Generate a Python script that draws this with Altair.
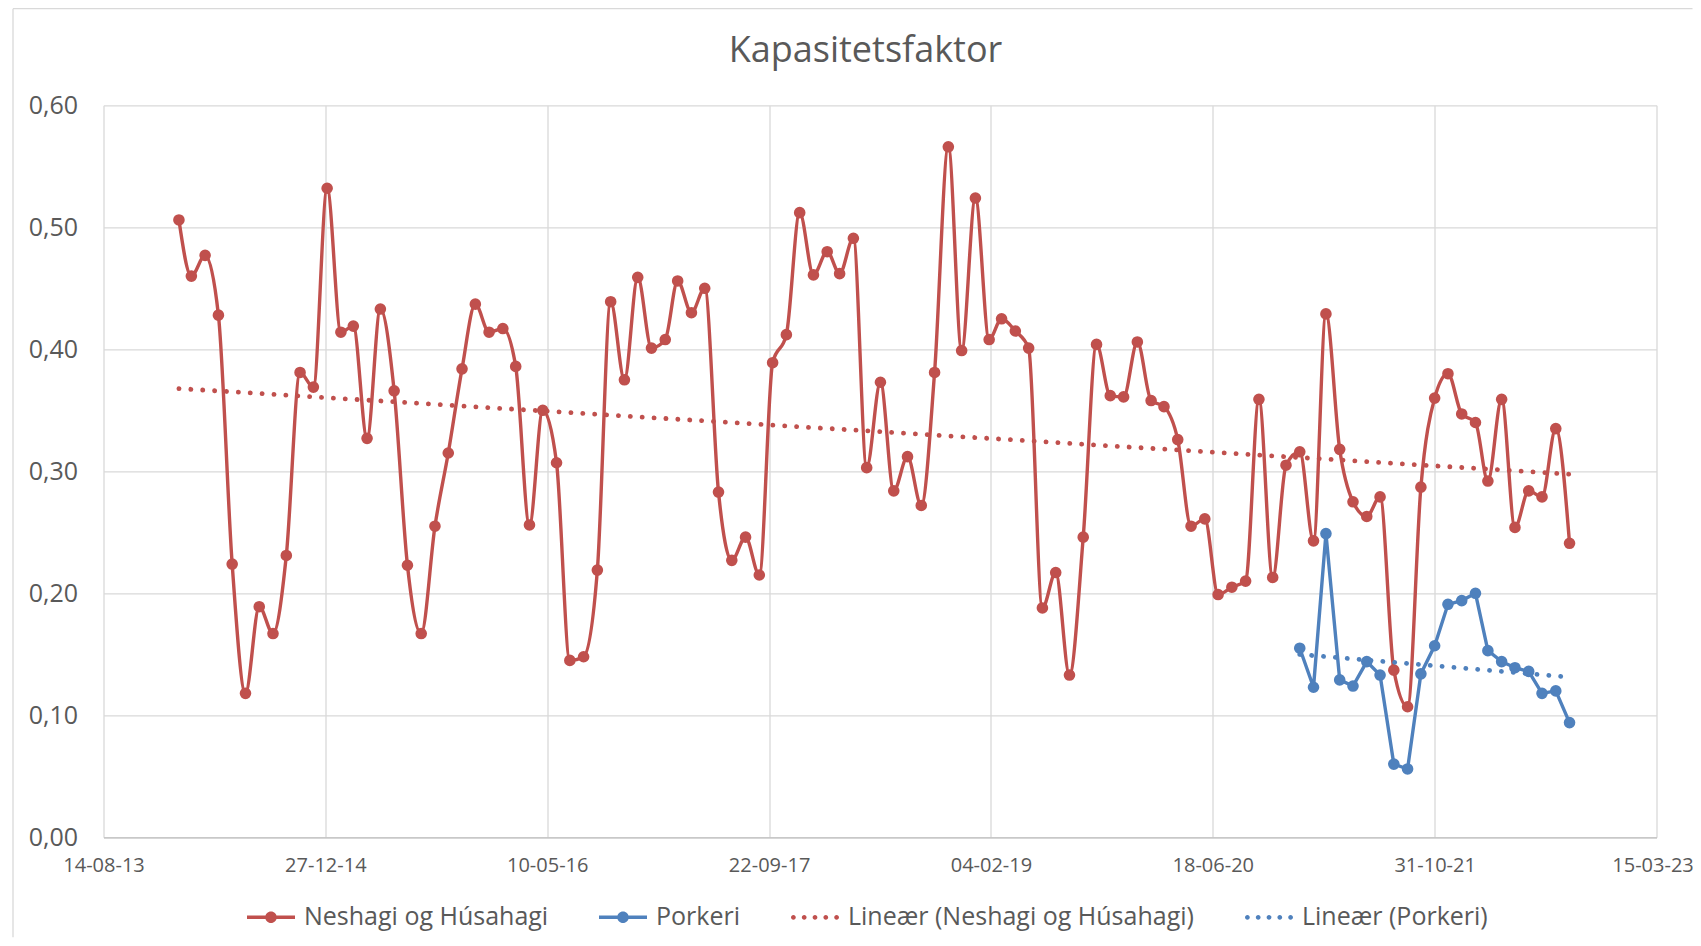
import altair as alt
import pandas as pd

RED = "#C0504D"
BLUE = "#4F81BD"
TEXT = "#595959"
GRID = "#D9D9D9"
FONT = "Open Sans"

# monthly dates (month end), Jan 2014 - Aug 2022
ym = [(y, m) for y in range(2014, 2023) for m in range(1, 13)][:104]
months = [(pd.Timestamp(year=y, month=m, day=1) + pd.offsets.MonthEnd(0)).strftime("%Y-%m-%d") for y, m in ym]

neshagi = [
    0.506, 0.460, 0.477, 0.428, 0.224, 0.118, 0.189, 0.167, 0.231, 0.381, 0.369, 0.532,
    0.414, 0.419, 0.327, 0.433, 0.366, 0.223, 0.167, 0.255, 0.315, 0.384, 0.437, 0.414,
    0.417, 0.386, 0.256, 0.350, 0.307, 0.145, 0.148, 0.219, 0.439, 0.375, 0.459, 0.401,
    0.408, 0.456, 0.430, 0.450, 0.283, 0.227, 0.246, 0.215, 0.389, 0.412, 0.512, 0.461,
    0.480, 0.462, 0.491, 0.303, 0.373, 0.284, 0.312, 0.272, 0.381, 0.566, 0.399, 0.524,
    0.408, 0.425, 0.415, 0.401, 0.188, 0.217, 0.133, 0.246, 0.404, 0.362, 0.361, 0.406,
    0.358, 0.353, 0.326, 0.255, 0.261, 0.199, 0.205, 0.210, 0.359, 0.213, 0.305, 0.316,
    0.243, 0.429, 0.318, 0.275, 0.263, 0.279, 0.137, 0.107, 0.287, 0.360, 0.380, 0.347,
    0.340, 0.292, 0.359, 0.254, 0.284, 0.279, 0.335, 0.241,
]
porkeri = [
    0.155, 0.123, 0.249, 0.129, 0.124, 0.144, 0.133, 0.060, 0.056, 0.134, 0.157, 0.191,
    0.194, 0.200, 0.153, 0.144, 0.139, 0.136, 0.118, 0.120, 0.094,
]
porkeri_months = months[-len(porkeri):]

tick_dates = ["2013-08-14", "2014-12-27", "2016-05-10", "2017-09-22",
              "2019-02-04", "2020-06-18", "2021-10-31", "2023-03-15"]
y_ticks = [0.0, 0.1, 0.2, 0.3, 0.4, 0.5, 0.6]

title_text = "Kapasitetsfaktor"
series_names = ["Neshagi og Húsahagi", "Porkeri",
                "Lineær (Neshagi og Húsahagi)", "Lineær (Porkeri)"]


def ms(d):
    return int(pd.Timestamp(d).value // 10**6)


df_red = pd.DataFrame({"t": [ms(d) for d in months], "value": neshagi})
df_blue = pd.DataFrame({"t": [ms(d) for d in porkeri_months], "value": porkeri})
tick_ms = [ms(d) for d in tick_dates]

x_scale = alt.Scale(type="utc", domain=[tick_ms[0], tick_ms[-1]], nice=False)
y_scale = alt.Scale(domain=[0, 0.6], nice=False)

x_axis = alt.Axis(values=tick_ms, labelExpr="utcFormat(datum.value, '%d-%m-%y')",
                  title=None, grid=True, gridColor=GRID, gridWidth=1.3,
                  domain=True, domainColor="#BFBFBF", domainWidth=1.3, ticks=False,
                  labelFont=FONT, labelFontSize=20, labelColor=TEXT, labelPadding=18,
                  labelOffset={"condition": {"test": f"datum.value >= {tick_ms[-1]}", "value": -4},
                               "value": 0},
                  labelFlush=False, labelOverlap=False)
y_axis = alt.Axis(values=y_ticks, labelExpr="replace(format(datum.value, '.2f'), '.', ',')",
                  title=None, grid=True, gridColor=GRID, gridWidth=1.3,
                  domain=False, ticks=False,
                  labelFont=FONT, labelFontSize=25, labelColor=TEXT, labelPadding=26,
                  labelFlush=False, labelOverlap=False)

X = alt.X("t:T", scale=x_scale, axis=x_axis)
Y = alt.Y("value:Q", scale=y_scale, axis=y_axis)

one = pd.DataFrame({"a": [0]})

# chart-area frame (decoration): only its left and top edges are inside the picture
frame_left = alt.Chart(one).mark_rule(color=GRID, strokeWidth=1.3, clip=False).encode(
    x=alt.value(-90.5), y=alt.value(-96.6), y2=alt.value(832))
frame_top = alt.Chart(one).mark_rule(color=GRID, strokeWidth=1.3, clip=False).encode(
    x=alt.value(-90.5), x2=alt.value(1589), y=alt.value(-96.6))

title = alt.Chart(one).mark_text(
    text=title_text, font=FONT, fontSize=36, color=TEXT, align="center", baseline="middle"
).encode(x=alt.value(762), y=alt.value(-54))

red_line = alt.Chart(df_red).mark_line(interpolate="monotone", color=RED, strokeWidth=3.4).encode(x=X, y=Y)
red_pts = alt.Chart(df_red).mark_circle(size=135, color=RED, opacity=1).encode(x=X, y=Y)
blue_line = alt.Chart(df_blue).mark_line(color=BLUE, strokeWidth=3.4).encode(x=X, y=Y)
blue_pts = alt.Chart(df_blue).mark_circle(size=135, color=BLUE, opacity=1).encode(x=X, y=Y)

dot_style = dict(strokeWidth=4.8, strokeCap="round", strokeDash=[0.1, 11.8])
red_trend = (alt.Chart(df_red).transform_regression("t", "value", method="linear")
             .mark_line(color=RED, **dot_style).encode(x=X, y=Y))
blue_trend = (alt.Chart(df_blue).transform_regression("t", "value", method="linear")
              .mark_line(color=BLUE, **dot_style).encode(x=X, y=Y))

# legend symbols (custom paths in -1..1 box)
P_LINE = ("M-1,-0.07 L1,-0.07 L1,0.07 L-1,0.07 Z "
          "M-0.24,0 A0.24,0.24 0 1,1 0.24,0 A0.24,0.24 0 1,1 -0.24,0 Z")
dots = []
for cx in [-0.9, -0.45, 0.0, 0.45, 0.9]:
    r = 0.1
    dots.append(f"M{cx - r},0 A{r},{r} 0 1,1 {cx + r},0 A{r},{r} 0 1,1 {cx - r},0 Z")
P_DOTS = " ".join(dots)

legend = alt.Legend(orient="none", legendX=143.5, legendY=788, direction="horizontal",
                    title=None, symbolSize=2304, symbolStrokeWidth=0,
                    labelFont=FONT, labelFontSize=25, labelColor=TEXT, labelLimit=0,
                    labelOffset=9, columnPadding=50, padding=0)
legend_df = pd.DataFrame({"series": series_names})
legend_layer = alt.Chart(legend_df).transform_filter("false").mark_point(filled=True, opacity=1).encode(
    shape=alt.Shape("series:N", scale=alt.Scale(domain=series_names, range=[P_LINE, P_LINE, P_DOTS, P_DOTS]),
                    legend=legend),
    color=alt.Color("series:N", scale=alt.Scale(domain=series_names, range=[RED, BLUE, RED, BLUE]),
                    legend=legend),
)

chart = alt.layer(frame_left, frame_top, title, red_line, red_pts, blue_line, blue_pts,
                  red_trend, blue_trend, legend_layer).properties(
    width=1553, height=732,
    autosize=alt.AutoSizeParams(type="none"),
    padding={"left": 95.5, "top": 97.3, "right": 36.5, "bottom": 100.7},
    background="white",
).configure_view(stroke=None)

chart.save("out.html", embed_options={"renderer": "svg", "actions": False})
